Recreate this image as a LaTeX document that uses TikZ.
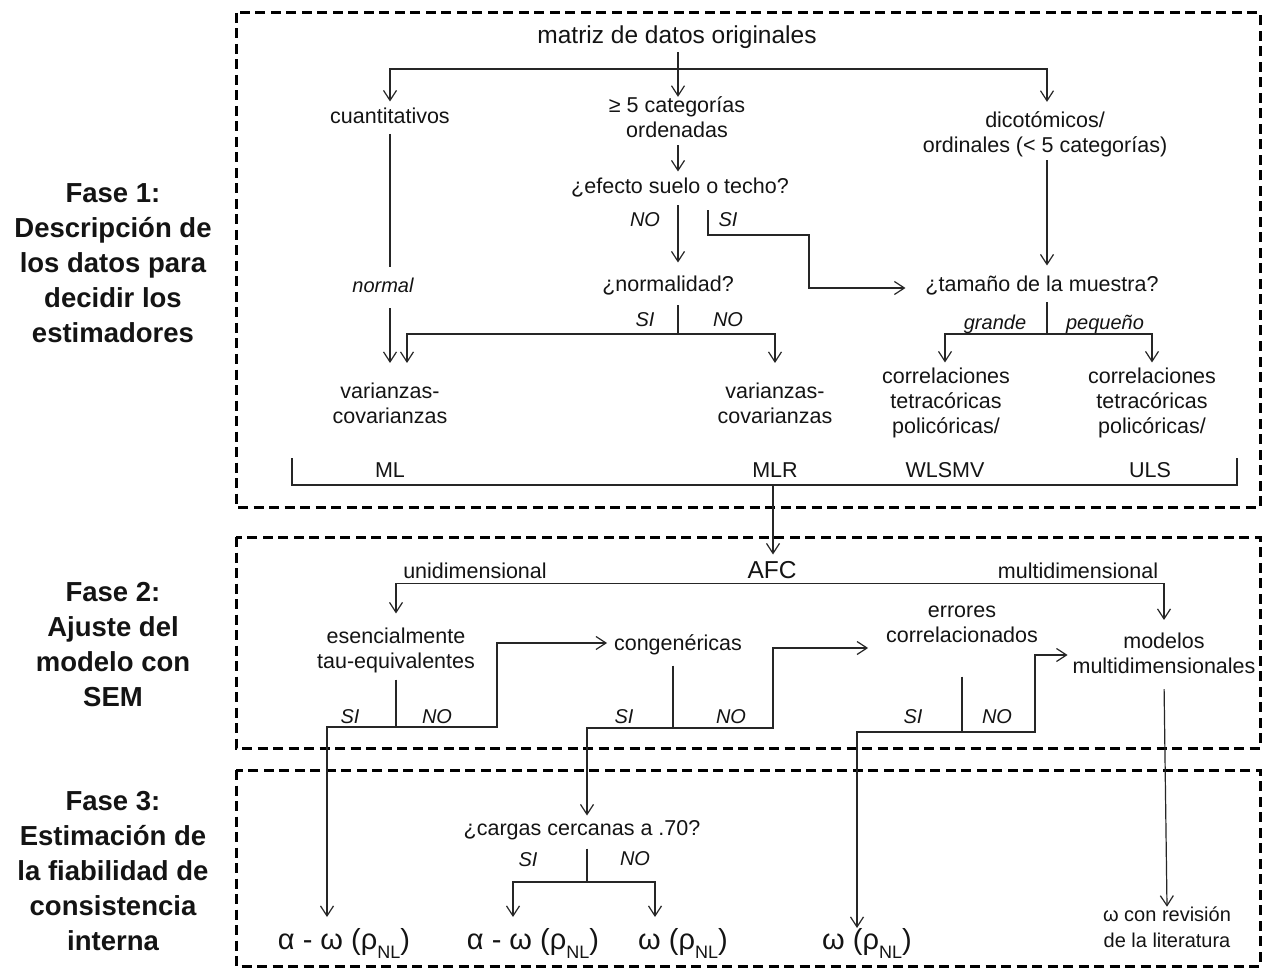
\documentclass[tikz,border=0pt]{standalone}
\usepackage{fontspec}
\setmainfont{Liberation Sans}
\usetikzlibrary{arrows.meta}
\begin{document}
\begin{tikzpicture}[x=1pt,y=-1pt,
 txt/.style={inner sep=0pt, outer sep=0pt, align=center, font=\fontsize{21.5}{25}\selectfont, text=black!92,
   execute at begin node=\strut, execute at end node=\strut},
 lab/.style={txt, font=\fontsize{20}{25}\selectfont\itshape},
 big/.style={txt, font=\fontsize{24.5}{29}\selectfont},
 phase/.style={txt, font=\fontsize{27.5}{35}\selectfont\bfseries},
 res/.style={txt, font=\fontsize{29}{34}\selectfont},
 lit/.style={txt, font=\fontsize{20}{26}\selectfont},
 ln/.style={draw=black!85, line width=1.2pt},
 arr/.style={ln, -{Straight Barb[length=10pt,width=13pt,line width=1.2pt]}},
 thk/.style={line width=1.9pt},
 dbox/.style={draw=black, line width=3pt, dash pattern=on 10pt off 5.5pt}]
\useasboundingbox (0,0) rectangle (1272,968);
\fill[white] (0,0) rectangle (1272,968);
% dashed phase boxes
\draw[dbox] (236,13) rectangle (1260,507);
\draw[dbox] (236,537) rectangle (1260,748);
\draw[dbox] (236,770) rectangle (1260,966);
% phase labels
\node[phase] (f1) at (113,268) {Fase 1:\\Descripción de\\los datos para\\decidir los\\estimadores};
\node[phase] (f2) at (113,650) {Fase 2:\\Ajuste del\\modelo con\\SEM};
\node[phase] (f3) at (113,876) {Fase 3:\\Estimación de\\la fiabilidad de\\consistencia\\interna};
% phase 1 nodes
\node[big] (matriz) at (677,38) {matriz de datos originales};
\node[txt] (cuant) at (390,119) {cuantitativos};
\node[txt] (cat5) at (677,121) {≥ 5 categorías\\ordenadas};
\node[txt] (dicot) at (1045,136) {dicotómicos/\\ordinales (< 5 categorías)};
\node[txt] (efecto) at (680,189) {¿efecto suelo o techo?};
\node[lab] (no1) at (645,222) {NO};
\node[lab] (si1) at (728,222) {SI};
\node[txt] (normq) at (668,287) {¿normalidad?};
\node[txt] (tamano) at (1042,287) {¿tamaño de la muestra?};
\node[lab] (si2) at (645,322) {SI};
\node[lab] (no2) at (728,322) {NO};
\node[lab] (grande) at (995,325) {grande};
\node[lab] (pequeno) at (1105,325) {pequeño};
\node[txt] (var1) at (390,407) {varianzas-\\covarianzas};
\node[txt] (var2) at (775,407) {varianzas-\\covarianzas};
\node[txt] (corr1) at (946,404) {correlaciones\\tetracóricas\\policóricas/};
\node[txt] (corr2) at (1152,404) {correlaciones\\tetracóricas\\policóricas/};
\node[txt] (ml) at (390,472) {ML};
\node[txt] (mlr) at (775,472) {MLR};
\node[txt] (wlsmv) at (945,472) {WLSMV};
\node[txt] (uls) at (1150,472) {ULS};
% phase 2 nodes
\node[big] (afc) at (772,573) {AFC};
\node[txt] (unidim) at (475,573) {unidimensional};
\node[txt] (multidim) at (1078,573) {multidimensional};
\node[txt] (esenc) at (396,651.5) {esencialmente\\tau-equivalentes};
\node[txt] (congen) at (678,645) {congenéricas};
\node[txt] (errores) at (962,627.5) {errores\\correlacionados};
\node[txt] (modelos) at (1164,657) {modelos\\multidimensionales};
\node[lab] (si3) at (350,718) {SI};
\node[lab] (no3) at (437,718) {NO};
\node[lab] (si4) at (624,718) {SI};
\node[lab] (no4) at (731,718) {NO};
\node[lab] (si5) at (913,718) {SI};
\node[lab] (no5) at (997,718) {NO};
% phase 3 nodes
\node[txt] (cargas) at (582,830) {¿cargas cercanas a .70?};
\node[lab] (si6) at (528,861) {SI};
\node[lab] (no6) at (635,860) {NO};
\node[res] (r1) at (344,943) {α - ω (ρ\raisebox{-0.3em}{\fontsize{18}{18}\selectfont NL})};
\node[res] (r2) at (533,943) {α - ω (ρ\raisebox{-0.3em}{\fontsize{18}{18}\selectfont NL})};
\node[res] (r3) at (683,943) {ω (ρ\raisebox{-0.3em}{\fontsize{18}{18}\selectfont NL})};
\node[res] (r4) at (867,943) {ω (ρ\raisebox{-0.3em}{\fontsize{18}{18}\selectfont NL})};
\node[lit] (omlit) at (1167,931) {ω con revisión\\de la literatura};
% junction coordinates
\coordinate (jtop) at (678,69);
\coordinate (csi) at (809,235);
\coordinate (jn) at (678,334);
\coordinate (jt) at (1047,334);
\coordinate (brL) at (292,458);
\coordinate (brR) at (1237,458);
\coordinate (brM) at (773,485);
\coordinate (je) at (396,727);
\coordinate (cno1) at (497,643);
\coordinate (jc) at (673,728);
\coordinate (cno2) at (773,648);
\coordinate (jr) at (962,732);
\coordinate (cno3) at (1035,655);
\coordinate (jg) at (587,882);
% phase 1 connectors
\draw[arr] ([xshift=1pt]matriz.south) -- ([xshift=1pt]cat5.north);
\draw[arr,thk,shorten >=5pt] (jtop) -| (cuant.north);
\draw[arr,thk,shorten >=10pt] (jtop) -| ([xshift=2pt]dicot.north);
\draw[arr,shorten >=5pt] ([xshift=1pt]cat5.south) -- ([xshift=-2pt]efecto.north);
\draw[arr,shorten <=4pt,shorten >=12pt] ([xshift=-2pt]efecto.south) -- ([xshift=10pt]normq.north);
\draw[arr,shorten >=20pt] ([xshift=28pt,yshift=-9pt]efecto.south) |- (csi) |- ([yshift=-1pt]tamano.west);
\draw[arr,shorten <=2.5pt,shorten >=20pt] (cuant.south) -- node[lab,pos=0.62,xshift=-7pt,fill=white,inner ysep=8pt,inner xsep=2pt] (normal) {normal} (var1.north);
\draw[ln,shorten <=6pt] ([xshift=10pt]normq.south) -- (jn);
\draw[arr,thk,shorten >=20pt] (jn) -| ([xshift=17pt]var1.north);
\draw[arr,shorten >=20pt] (jn) -| (var2.north);
\draw[arr,shorten >=9pt] ([xshift=2pt]dicot.south) -- ([xshift=5pt]tamano.north);
\draw[ln,shorten <=3pt] ([xshift=5pt]tamano.south) -- (jt);
\draw[arr,shorten >=5pt] (jt) -| ([xshift=-1pt]corr1.north);
\draw[arr,shorten >=5pt] (jt) -| (corr2.north);
\draw[ln] (brL) -- (brL |- brM) -- (brR |- brM) -- (brR);
% phase 2 connectors
\draw[arr] (brM) -- ([xshift=1pt,yshift=4pt]afc.north);
\draw[arr,shorten >=14pt] ([yshift=4pt]afc.south) -| (esenc.north);
\draw[arr,shorten >=13pt] ([yshift=4pt]afc.south) -| (modelos.north);
\draw[ln,shorten <=4pt] (esenc.south) -- (je);
\draw[arr,thk,shorten >=9pt] (je) -| ([xshift=-17pt]r1.north);
\draw[arr,thk,shorten >=7pt] (je) -| (cno1) -- ([yshift=2pt]congen.west);
\draw[ln,shorten <=8pt] ([xshift=-5pt]congen.south) -- (jc);
\draw[arr,shorten >=2pt] (jc) -| ([xshift=5pt]cargas.north);
\draw[arr,shorten >=18pt] (jc) -| (cno2) -- ([yshift=-20.5pt]errores.west);
\draw[ln,shorten <=27pt] (errores.south) -- (jr);
\draw[arr] (jr) -| ([xshift=-10pt,yshift=-2pt]r4.north);
\draw[arr,shorten >=5pt] (jr) -| (cno3) -- ([yshift=2pt]modelos.west);
\draw[arr,shorten <=8pt] (modelos.south) -- (omlit.north);
% phase 3 connectors
\draw[ln,shorten <=6pt] ([xshift=5pt]cargas.south) -- (jg);
\draw[arr,thk,shorten >=9pt] (jg) -| ([xshift=-20pt]r2.north);
\draw[arr,shorten >=9pt] (jg) -| ([xshift=-28pt]r3.north);
\end{tikzpicture}
\end{document}
